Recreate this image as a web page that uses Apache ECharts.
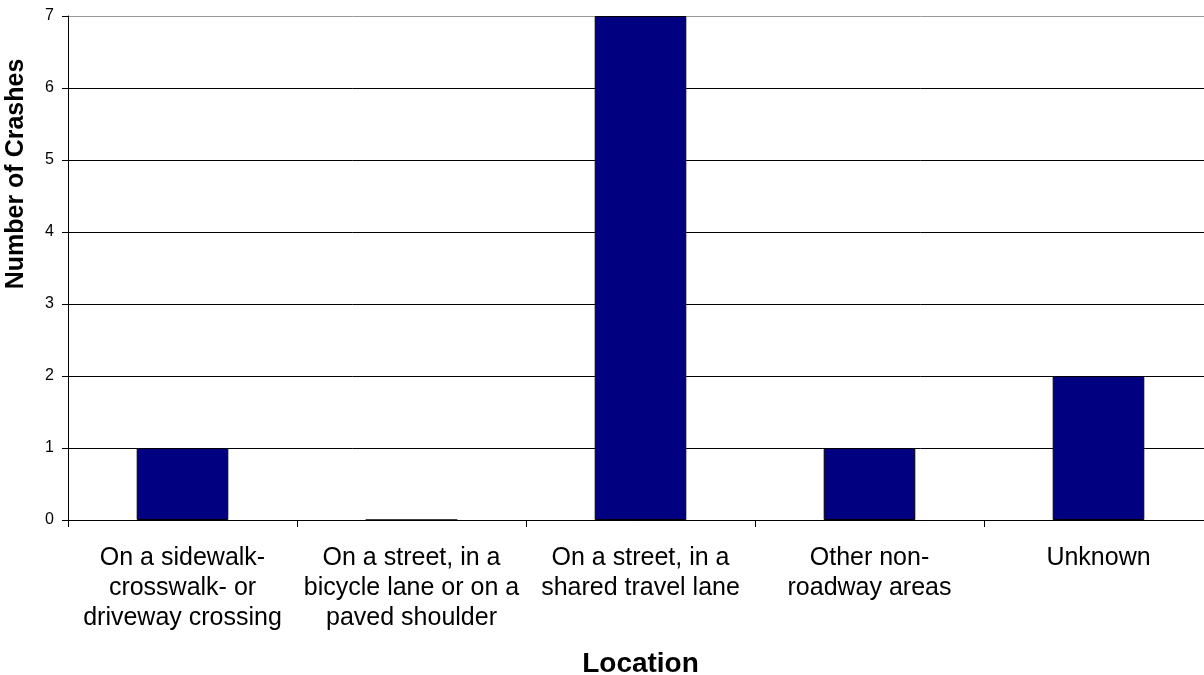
<!DOCTYPE html>
<html>
<head>
<meta charset="utf-8">
<script src="https://cdn.jsdelivr.net/npm/echarts@6/dist/echarts.min.js"></script>
<style>
html,body{margin:0;padding:0;background:#fff;}
#chart{width:1204px;height:675px;}
</style>
</head>
<body>
<div id="chart"></div>
<script>
const categories = [
  "On a sidewalk-\ncrosswalk- or\ndriveway crossing",
  "On a street, in a\nbicycle lane or on a\npaved shoulder",
  "On a street, in a\nshared travel lane",
  "Other non-\nroadway areas",
  "Unknown"
];
const crashes = [1, 0, 7, 1, 2];
const yTicks = { min: 0, max: 7, interval: 1 };
const xTitle = "Location";
const yTitle = "Number of Crashes";

const FONT = "'Liberation Sans', Arial, sans-serif";
const chart = echarts.init(document.getElementById('chart'));
chart.setOption({
  animation: false,
  backgroundColor: '#fff',
  textStyle: { fontFamily: FONT },
  grid: { left: 68, right: -9, top: 16, bottom: 155, containLabel: false, outerBoundsMode: 'none' },
  graphic: [{
    type: 'text',
    x: 16,
    y: 174,
    rotation: Math.PI / 2,
    style: {
      text: yTitle,
      fontFamily: FONT, fontSize: 25, fontWeight: 'bold', fill: '#000',
      align: 'center', verticalAlign: 'middle'
    }
  }],
  xAxis: {
    type: 'category',
    data: categories,
    boundaryGap: true,
    name: xTitle,
    nameLocation: 'middle',
    nameGap: 130,
    nameTextStyle: { fontFamily: FONT, fontSize: 28, fontWeight: 'bold', color: '#000' },
    axisLine: { show: true, lineStyle: { color: '#000', width: 1 } },
    axisTick: { show: true, length: 7, alignWithLabel: false, lineStyle: { color: '#000' } },
    axisLabel: { interval: 0, fontFamily: FONT, fontSize: 25, lineHeight: 30, color: '#000', margin: 23, align: 'center' },
    splitLine: { show: false }
  },
  yAxis: {
    type: 'value',
    min: yTicks.min,
    max: yTicks.max,
    interval: yTicks.interval,
    axisLine: { show: true, lineStyle: { color: '#000', width: 1 } },
    axisTick: { show: true, length: 6, lineStyle: { color: '#000' } },
    axisLabel: { fontFamily: FONT, fontSize: 16, color: '#000', margin: 14 },
    splitLine: { show: true, lineStyle: { color: ['#000','#000','#000','#000','#000','#000','#000','#999'], width: 1 } }
  },
  series: [{
    type: 'bar',
    data: crashes,
    barWidth: '40%',
    itemStyle: { color: '#000080', borderColor: '#000', borderWidth: 1 }
  }]
});
</script>
</body>
</html>
